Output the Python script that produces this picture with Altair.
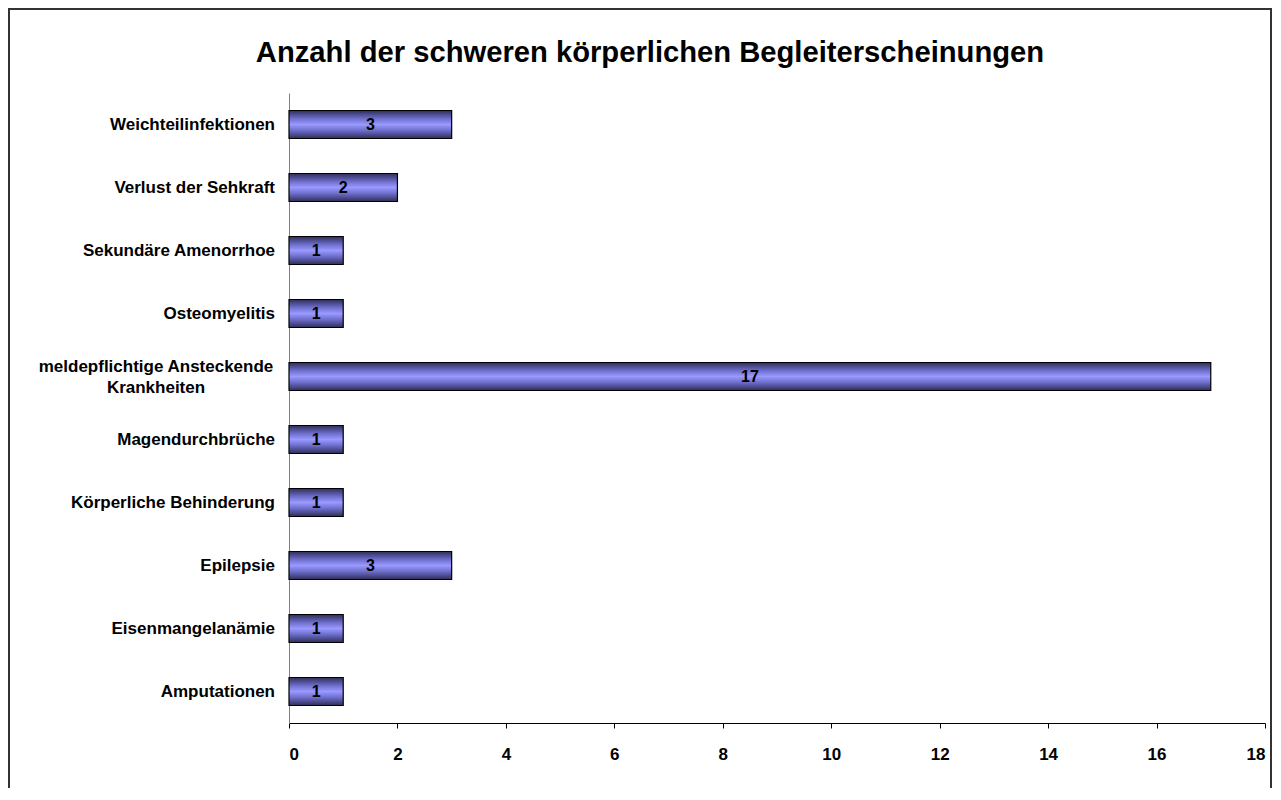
import altair as alt
import pandas as pd

categories = [
    "Weichteilinfektionen",
    "Verlust der Sehkraft",
    "Sekundäre Amenorrhoe",
    "Osteomyelitis",
    "meldepflichtige Ansteckende Krankheiten",
    "Magendurchbrüche",
    "Körperliche Behinderung",
    "Epilepsie",
    "Eisenmangelanämie",
    "Amputationen",
]
values = [3, 2, 1, 1, 17, 1, 1, 3, 1, 1]
x_ticks = [0, 2, 4, 6, 8, 10, 12, 14, 16, 18]
title_text = "Anzahl der schweren körperlichen Begleiterscheinungen"
wrapped = "meldepflichtige Ansteckende Krankheiten"

df = pd.DataFrame({"cat": categories, "val": values})

FONT = "Liberation Sans"
W, H = 976, 630

y_sorted = alt.Y(
    "cat:N",
    sort=categories,
    scale=alt.Scale(paddingInner=0.556, paddingOuter=0.278),
    axis=alt.Axis(
        title=None,
        ticks=False,
        labels=False,
        domainColor="#808080",
        domainWidth=1,
    ),
)

x_enc = alt.X(
    "val:Q",
    scale=alt.Scale(domain=[0, 18], nice=False),
    axis=alt.Axis(
        title=None,
        values=x_ticks,
        grid=False,
        domainColor="#000000",
        tickColor="#000000",
        tickSize=5,
        labelFont=FONT,
        labelFontSize=17,
        labelFontWeight="bold",
        labelColor="#000000",
        labelPadding=18,
    ),
)

grad = alt.Gradient(
    gradient="linear",
    x1=0, y1=0, x2=0, y2=1,
    stops=[
        alt.GradientStop(color="#2e2e58", offset=0),
        alt.GradientStop(color="#7070d0", offset=0.3),
        alt.GradientStop(color="#9a9aff", offset=0.5),
        alt.GradientStop(color="#7070d0", offset=0.7),
        alt.GradientStop(color="#2e2e58", offset=1),
    ],
)

base = alt.Chart(df)

bars = base.mark_bar(
    color=grad, stroke="#000000", strokeWidth=1.2
).encode(y=y_sorted, x=x_enc)

labels = base.transform_calculate(mid="datum.val / 2").mark_text(
    font=FONT, fontSize=16, fontWeight="bold", color="#000000",
    align="center", baseline="middle"
).encode(
    y=alt.Y("cat:N", sort=categories),
    x=alt.X("mid:Q"),
    text=alt.Text("val:Q"),
)

ylab_single = base.transform_filter(
    alt.datum.cat != wrapped
).mark_text(
    font=FONT, fontSize=17, fontWeight="bold", color="#000000",
    align="right", baseline="middle"
).encode(
    y=alt.Y("cat:N", sort=categories),
    x=alt.value(-14),
    text="cat:N",
)

ylab_multi = base.transform_filter(
    alt.datum.cat == wrapped
).transform_calculate(
    lines="['meldepflichtige Ansteckende', 'Krankheiten']"
).mark_text(
    font=FONT, fontSize=17, fontWeight="bold", color="#000000",
    align="center", baseline="middle", lineHeight=21, dy=-10
).encode(
    y=alt.Y("cat:N", sort=categories),
    x=alt.value(-133),
    text="lines:N",
)

title = alt.Chart(pd.DataFrame({"t": [title_text]})).mark_text(
    font=FONT, fontSize=29.2, fontWeight="bold", color="#000000",
    align="center", baseline="alphabetic"
).encode(
    x=alt.value(361), y=alt.value(-31), text="t:N"
)

frame = base.mark_rect(
    fill=None, stroke="#333333", strokeWidth=1.8, clip=False
).encode(
    x=alt.value(-280), x2=alt.value(982),
    y=alt.value(-84), y2=alt.value(760),
)

chart = alt.layer(frame, bars, labels, ylab_single, ylab_multi, title).properties(
    width=W,
    height=H,
    autosize=alt.AutoSizeParams(type="none"),
    padding={"left": 281, "top": 85, "right": 8, "bottom": 65},
).configure_view(stroke=None)

chart.save("out.html", embed_options={"renderer": "svg", "actions": False})
